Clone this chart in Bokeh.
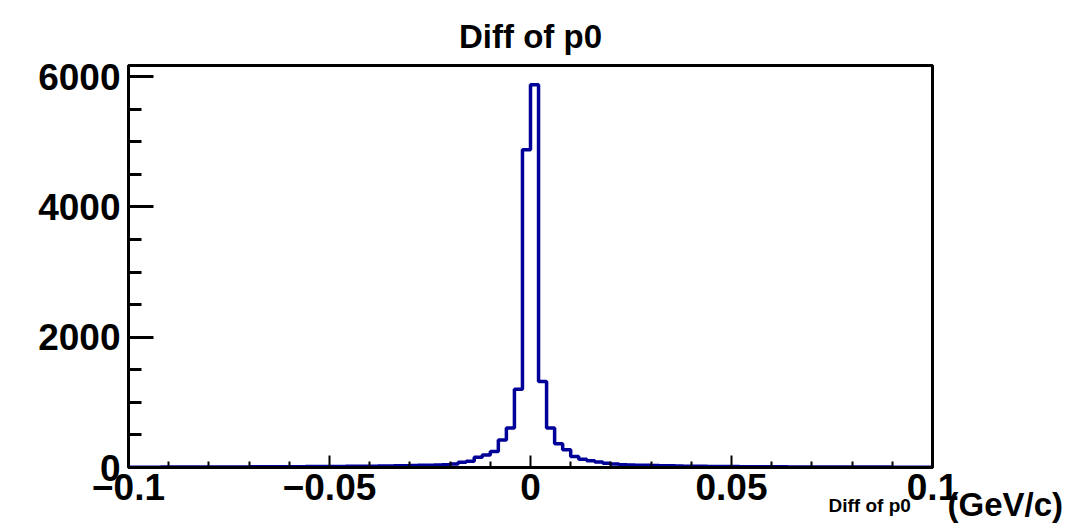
from bokeh.plotting import figure
from bokeh.models import Range1d, FixedTicker, CustomJSTickFormatter, Label
from bokeh.embed import file_html
from bokeh.resources import INLINE

# ---- data (100 bins, -0.1 .. 0.1) ----
x_min = -0.1
x_max = 0.1
n_bins = 100
counts = [
    4, 5, 5, 5, 6, 6, 6, 7, 7, 7, 8, 8, 8, 9, 9, 10, 10, 11, 11, 12,
    12, 13, 14, 14, 15, 16, 17, 18, 19, 20,
    21, 23, 24, 26, 28, 30, 33, 36, 39,
    43, 54, 82, 95, 158, 193, 245, 423, 605, 1202,
    4877, 5876,
    1320, 605, 365, 272, 168, 125, 104, 84, 64, 54, 43,
    40, 36, 33, 30, 28, 25, 23, 21,
    20, 18, 17, 16, 15, 14, 13, 12, 12, 11,
    10, 10, 9, 9, 9, 8, 8, 8, 7, 7, 7, 6, 6, 6, 6, 5, 5, 5, 5, 4,
]
x_major = [-0.1, -0.05, 0.0, 0.05, 0.1]
x_minor = [-0.09, -0.08, -0.07, -0.06, -0.04, -0.03, -0.02, -0.01,
           0.01, 0.02, 0.03, 0.04, 0.06, 0.07, 0.08, 0.09]
y_major = [0, 2000, 4000, 6000]
y_minor = [500, 1000, 1500, 2500, 3000, 3500, 4500, 5000, 5500]
title_text = "Diff of p0"
xtitle_small = "Diff of p0"
xtitle_unit = "(GeV/c)"

bin_w = (x_max - x_min) / n_bins
edges = [x_min + i * bin_w for i in range(n_bins + 1)]
y_top = 1.05 * max(counts)

FONT = "Liberation Sans"

p = figure(width=1067, height=525, output_backend="svg", toolbar_location=None,
           x_range=Range1d(x_min, x_max), y_range=Range1d(0, y_top),
           min_border_left=128, min_border_right=135, min_border_top=65,
           min_border_bottom=58, title=None)
p.background_fill_color = "white"
p.border_fill_color = "white"
p.outline_line_color = "black"
p.outline_line_width = 3
p.xgrid.visible = False
p.ygrid.visible = False

p.step(x=edges, y=counts + [counts[-1]], mode="after",
       line_color="#000099", line_width=3.5)

xa = p.xaxis[0]
xa.ticker = FixedTicker(ticks=x_major, minor_ticks=x_minor)
xa.formatter = CustomJSTickFormatter(code="""
const v = Math.round(tick*1000)/1000;
if (v === 0) return "0";
return String(v).replace("-", "\u2212");
""")
xa.axis_line_width = 3
xa.major_tick_in = 12
xa.major_tick_out = 0
xa.minor_tick_in = 6
xa.minor_tick_out = 0
xa.major_tick_line_width = 2
xa.minor_tick_line_width = 2
xa.major_label_text_font = FONT
xa.major_label_text_font_style = "bold"
xa.major_label_text_font_size = "37px"
xa.major_label_text_color = "black"
xa.major_label_standoff = 6

ya = p.yaxis[0]
ya.ticker = FixedTicker(ticks=y_major, minor_ticks=y_minor)
ya.axis_line_width = 3
ya.major_tick_in = 25
ya.major_tick_out = 0
ya.minor_tick_in = 13
ya.minor_tick_out = 0
ya.major_tick_line_width = 3
ya.minor_tick_line_width = 3
ya.major_label_text_font = FONT
ya.major_label_text_font_style = "bold"
ya.major_label_text_font_size = "37px"
ya.major_label_text_color = "black"
ya.major_label_standoff = 8

# texts outside the frame live in side panels (so they are not clipped)
p.add_layout(Label(x=0.0, y=y_top, y_offset=29, text=title_text,
                   text_align="center", text_baseline="alphabetic",
                   text_font=FONT, text_font_style="bold",
                   text_font_size="33px", text_color="black"), "above")
p.add_layout(Label(x=x_max, y=0, x_offset=-104, y_offset=-38, text=xtitle_small,
                   text_align="left", text_baseline="alphabetic",
                   text_font=FONT, text_font_style="bold",
                   text_font_size="19px", text_color="black"), "above")
p.add_layout(Label(x=x_max, y=0, x_offset=15, y_offset=-37, text=xtitle_unit,
                   text_align="left", text_baseline="alphabetic",
                   text_font=FONT, text_font_style="bold",
                   text_font_size="33px", text_color="black"), "right")

open("out.html", "w").write(file_html(p, INLINE))
